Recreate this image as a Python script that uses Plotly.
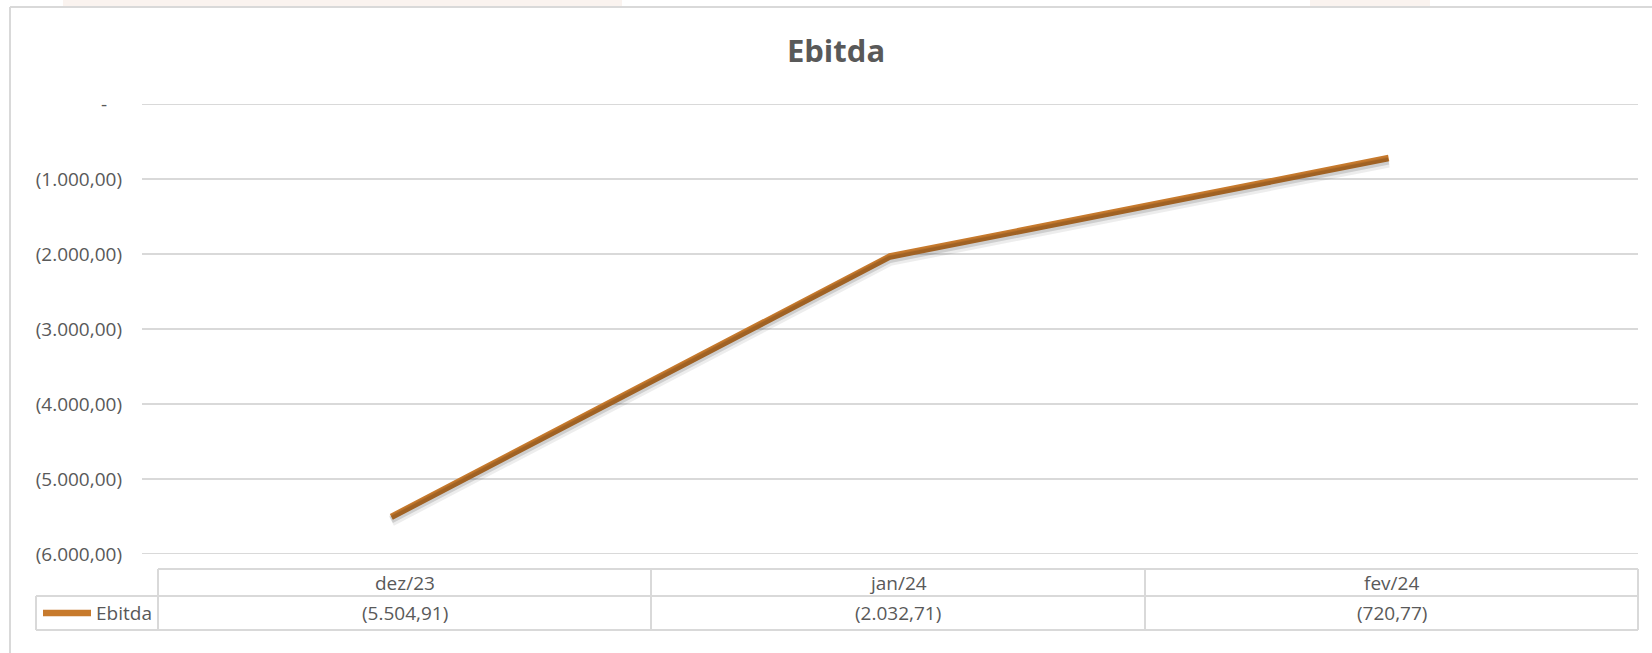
import plotly.graph_objects as go

# ---- data ----
categories = ["dez/23", "jan/24", "fev/24"]
ebitda = [-5504.91, -2032.71, -720.77]
series_name = "Ebitda"
y_ticks = [0, -1000, -2000, -3000, -4000, -5000, -6000]
y_tick_labels = ["-\u00a0\u00a0\u00a0", "(1.000,00)", "(2.000,00)", "(3.000,00)",
                 "(4.000,00)", "(5.000,00)", "(6.000,00)"]


def fmt_br(v):
    s = f"{abs(v):,.2f}".replace(",", "X").replace(".", ",").replace("X", ".")
    return f"({s})" if v < 0 else s


W, H = 1652, 653
LINE_COLOR = "#C77A2D"
GRID = "#D9D9D9"
TXT = "#595959"
FONT = "Open Sans"

# plot area (pixels)
PL, PR, PT, PB = 142, 1638, 104, 554


def px(x):
    return x / W


def py(y):
    return 1 - y / H


fig = go.Figure()

# soft shadow of the line (overlay axes shifted slightly down)
fig.add_trace(go.Scatter(
    x=categories, y=ebitda, mode="lines", xaxis="x", yaxis="y3",
    line=dict(color="rgba(0,0,0,0.07)", width=11), hoverinfo="skip", showlegend=False))
fig.add_trace(go.Scatter(
    x=categories, y=ebitda, mode="lines", xaxis="x", yaxis="y2",
    line=dict(color="rgba(0,0,0,0.13)", width=7), hoverinfo="skip", showlegend=False))

fig.add_trace(go.Scatter(
    x=categories, y=ebitda, mode="lines", name=series_name,
    line=dict(color=LINE_COLOR, width=6.5), showlegend=False))

shapes = []
annotations = []

# gridlines (drawn from tick values on the y axis)
for t in y_ticks:
    shapes.append(dict(type="line", xref="paper", yref="y", x0=px(PL), x1=px(PR), y0=t, y1=t,
                       line=dict(color=GRID, width=1.8), layer="below"))

# outer chart border
shapes.append(dict(type="line", xref="paper", yref="paper", x0=px(10), x1=px(10), y0=py(7), y1=0,
                   line=dict(color=GRID, width=2)))
shapes.append(dict(type="line", xref="paper", yref="paper", x0=px(10), x1=1, y0=py(7), y1=py(7),
                   line=dict(color=GRID, width=2)))
# faint background blobs at top
shapes.append(dict(type="rect", xref="paper", yref="paper", x0=px(63), x1=px(622), y0=py(6), y1=1,
                   fillcolor="rgba(240,222,208,0.35)", line=dict(width=0), layer="below"))
shapes.append(dict(type="rect", xref="paper", yref="paper", x0=px(1310), x1=px(1430), y0=py(6), y1=1,
                   fillcolor="rgba(240,222,208,0.35)", line=dict(width=0), layer="below"))

# data table
t_top, t_mid, t_bot = 569, 596, 630
col_edges = [158, 651, 1145, 1638]
hdr_left = 36
lw = dict(color=GRID, width=2)
shapes.append(dict(type="line", xref="paper", yref="paper", x0=px(col_edges[0]), x1=px(col_edges[-1]),
                   y0=py(t_top), y1=py(t_top), line=lw))
shapes.append(dict(type="line", xref="paper", yref="paper", x0=px(hdr_left), x1=px(col_edges[-1]),
                   y0=py(t_mid), y1=py(t_mid), line=lw))
shapes.append(dict(type="line", xref="paper", yref="paper", x0=px(hdr_left), x1=px(col_edges[-1]),
                   y0=py(t_bot), y1=py(t_bot), line=lw))
shapes.append(dict(type="line", xref="paper", yref="paper", x0=px(hdr_left), x1=px(hdr_left),
                   y0=py(t_mid), y1=py(t_bot), line=lw))
for e in col_edges:
    shapes.append(dict(type="line", xref="paper", yref="paper", x0=px(e), x1=px(e),
                       y0=py(t_top), y1=py(t_bot), line=lw))

for i, (c, v) in enumerate(zip(categories, ebitda)):
    cx = (col_edges[i] + col_edges[i + 1]) / 2
    annotations.append(dict(x=px(cx), y=py((t_top + t_mid) / 2), xref="paper", yref="paper",
                            text=c, showarrow=False, xanchor="center", yanchor="middle",
                            font=dict(family=FONT, size=19, color=TXT)))
    annotations.append(dict(x=px(cx), y=py((t_mid + t_bot) / 2), xref="paper", yref="paper",
                            text=fmt_br(v), showarrow=False, xanchor="center", yanchor="middle",
                            font=dict(family=FONT, size=19, color=TXT)))

# legend key in table
shapes.append(dict(type="line", xref="paper", yref="paper", x0=px(43), x1=px(91),
                   y0=py(613), y1=py(613), line=dict(color=LINE_COLOR, width=6.5)))
annotations.append(dict(x=px(94), y=py(613), xref="paper", yref="paper", text=series_name,
                        showarrow=False, xanchor="left", yanchor="middle",
                        font=dict(family=FONT, size=19, color=TXT)))

# shadow offsets in data units
units_per_px = 6000 / (PB - PT)
off2 = 3 * units_per_px
off3 = 4 * units_per_px
yr = [-6000, 0]

fig.update_layout(
    width=W, height=H, autosize=False,
    margin=dict(l=0, r=0, t=0, b=0, pad=0, autoexpand=False),
    paper_bgcolor="white", plot_bgcolor="rgba(0,0,0,0)",
    title=dict(text="<b>Ebitda</b>", x=px(836), xanchor="center", y=py(51), yanchor="middle",
               font=dict(family=FONT, size=31, color=TXT), automargin=False),
    xaxis=dict(domain=[px(PL), px(PR)], range=[-0.5, 2.5], showticklabels=False, automargin=False,
               showgrid=False, zeroline=False, showline=False, ticks="", fixedrange=True),
    yaxis=dict(domain=[py(PB), py(PT)], range=yr, tickvals=y_ticks, automargin=False,
               ticktext=y_tick_labels, showgrid=False,
               zeroline=False, showline=False, ticks="", ticklabelstandoff=19,
               tickfont=dict(family=FONT, size=19, color=TXT)),
    yaxis2=dict(domain=[py(PB), py(PT)], range=[yr[0] + off2, yr[1] + off2], overlaying="y",
                visible=False, automargin=False),
    yaxis3=dict(domain=[py(PB), py(PT)], range=[yr[0] + off3, yr[1] + off3], overlaying="y",
                visible=False, automargin=False),
    shapes=shapes,
    annotations=annotations,
    showlegend=False,
)

fig.write_html(
    "out.html",
    config={"displayModeBar": False},
    post_script="document.body.style.margin='0';document.body.style.overflow='hidden';",
)
